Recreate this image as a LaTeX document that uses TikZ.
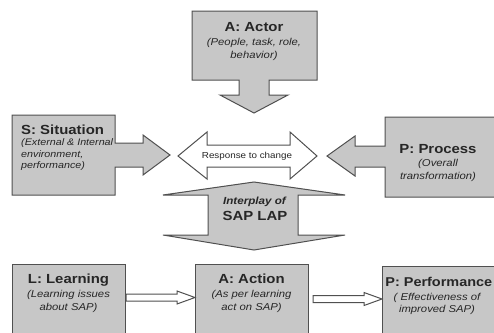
\documentclass[tikz,border=0pt]{standalone}
\usepackage{fontspec}
\setmainfont{Liberation Sans}[FakeStretch=1.13]
\setsansfont{Liberation Sans}[FakeStretch=1.13]
\usetikzlibrary{calc,positioning}
\definecolor{boxgray}{RGB}{199,199,199}
\definecolor{edgegray}{RGB}{80,80,80}
\definecolor{inkgray}{RGB}{38,38,38}
\newcommand{\ttlfont}{\fontsize{13.2}{15}\selectfont\bfseries}
\newcommand{\subfont}{\fontsize{10}{12.6}\selectfont\itshape}
\newcommand{\hollowarrow}[2]{%
  \draw[hollow] ($(#1)+(0,-3.5)$) -- ($(#2)+(-18,-3.5)$) -- ($(#2)+(-18,-6.5)$)
    -- (#2) -- ($(#2)+(-18,6.5)$) -- ($(#2)+(-18,3.5)$) -- ($(#1)+(0,3.5)$) -- cycle;}
\tikzset{
  blk/.style={draw=edgegray,fill=boxgray,line width=1pt,line join=miter},
  hollow/.style={draw=edgegray,fill=white,line width=1pt,line join=miter},
  sapbox/.style={blk,rectangle,anchor=north west,inner sep=0pt,
                 minimum width=113pt,minimum height=80pt},
  ttl/.style={font=\ttlfont,text=inkgray,inner sep=0pt,anchor=base},
  sub/.style={font=\subfont,text=inkgray,inner sep=0pt,align=center,anchor=base},
}

\begin{document}
\begin{tikzpicture}[x=1pt,y=-1pt]
  \useasboundingbox (0,0) rectangle (494,332);
  \clip (0,0) rectangle (494,332);
  % callout blocks
  \draw[blk] (192,11) -- (317,11) -- (317,80) -- (269,80) -- (269,95) -- (288,95)
    -- (254,113) -- (220,95) -- (239,95) -- (239,80) -- (192,80) -- cycle;
  \draw[blk] (12,115) -- (115,115) -- (115,143) -- (143,143) -- (143,135)
    -- (170,155) -- (143,175) -- (143,167) -- (115,167) -- (115,195) -- (12,195) -- cycle;
  \draw[blk] (500,117) -- (385,117) -- (385,146) -- (355,146) -- (355,136)
    -- (327,156) -- (355,176) -- (355,167) -- (385,167) -- (385,197) -- (500,197);
  \draw[hollow] (178,156) -- (207,132) -- (207,145) -- (290,145) -- (290,132)
    -- (317,156) -- (290,179) -- (290,167) -- (207,167) -- (207,179) -- cycle;
  \draw[blk] (254,182) -- (345,195) -- (298,195) -- (298,235) -- (345,235)
    -- (254,250) -- (163,235) -- (208,235) -- (208,195) -- (163,195) -- cycle;
  % bottom row
  \node[sapbox] (learning) at (12,263.5) {};
  \node[sapbox] (action) at (195,263.5) {};
  \node[sapbox,minimum width=120pt] (performance) at (382,266) {};
  \coordinate (actout) at ([xshift=4pt]action.east);
  \hollowarrow{learning.east |- 0,297.5}{action.west |- 0,297.5}
  \hollowarrow{actout |- 0,299}{performance.west |- 0,299}
  % texts (sub nodes sit on the baseline of their last line)
  \node[ttl] (actor) at (254,31.7) {A: Actor};
  \node[sub] (actorsub) at (254,58.3) {(People, task, role,\\behavior)};
  \node[ttl,anchor=base west] (situation) at (21,134) {S: Situation};
  \node[sub,align=left,anchor=base west,font=\fontsize{9.5}{11.2}\selectfont\itshape]
    (situationsub) at (21,168.3) {(External \& Internal\\environment,\\performance)};
  \node[ttl] (process) at (438,153.3) {P: Process};
  \node[sub] (processsub) at (438,179.5) {(Overall\\transformation)};
  \node[font=\fontsize{8.7}{10}\selectfont,text=inkgray,inner sep=0pt,anchor=base]
    (response) at (247,158.5) {Response to change};
  \node[ttl,font=\fontsize{10.3}{12}\selectfont\bfseries\itshape] (interplay) at (254.5,204.3)
    {Interplay of};
  \node[ttl] (saplap) at (255,220.7) {SAP LAP};
  \node[ttl] (learnttl) at (68.5,283.7) {L: Learning};
  \node[sub] (learnsub) at (68.5,310.3) {(Learning issues\\about SAP)};
  \node[ttl] (actttl) at (251.5,283.7) {A: Action};
  \node[sub] (actsub) at (251.5,310.3) {(As per learning\\act on SAP)};
  \node[ttl,anchor=base east,font=\fontsize{12.8}{15}\selectfont\bfseries] (perfttl)
    at (492.5,286) {P: Performance};
  \node[sub] (perfsub) at (437,312.6) {( Effectiveness of\\improved SAP)};
\end{tikzpicture}
\end{document}
